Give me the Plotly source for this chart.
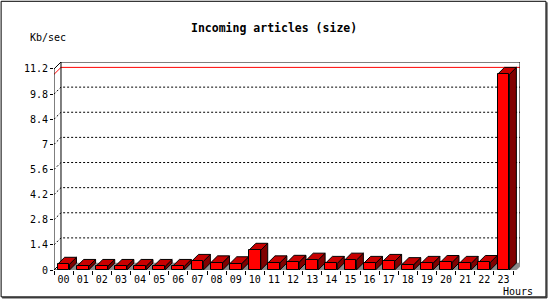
import plotly.graph_objects as go

# ---------------- data ----------------
hours = [f"{h:02d}" for h in range(24)]
kb_per_sec = [0.32, 0.20, 0.20, 0.20, 0.20, 0.20, 0.20, 0.48, 0.40, 0.35, 1.10, 0.40,
              0.43, 0.55, 0.37, 0.55, 0.37, 0.48, 0.30, 0.37, 0.42, 0.37, 0.42, 10.90]
y_ticks = [0, 1.4, 2.8, 4.2, 5.6, 7, 8.4, 9.8, 11.2]
y_ticklabels = ["0", "1.4", "2.8", "4.2", "5.6", "7", "8.4", "9.8", "11.2"]
title_text = "Incoming articles (size)"
y_title = "Kb/sec"
x_title = "Hours"

# ---------------- layout geometry (pixels) ----------------
W, H = 550, 300
L, R, T, B = 53.5, 520.5, 61.5, 270.5   # plot area incl. 3D depth
DEPTH = 7
n = len(hours)
ytop = y_ticks[-1]
px_per_x = (R - L - DEPTH) / n
px_per_y = (B - T - DEPTH) / ytop
dx = DEPTH / px_per_x
dy = DEPTH / px_per_y
xr = [-0.5, n - 0.5 + dx]
yr = [0, ytop + dy]
bw = 0.62

def px(xp):
    return (xp - L) / (R - L)

def py(yp):
    return (B - yp) / (B - T)

FRONT = "#ff0000"
TOP = "#c80000"
SIDE = "#800000"
SHADOW = "#8c8c8c"
FONT = "DejaVu Sans Mono"

fig = go.Figure()

def poly_trace(polys, fill, line_color="black", lw=1):
    xs, ys = [], []
    for p in polys:
        for (a, b) in p + [p[0]]:
            xs.append(a)
            ys.append(b)
        xs.append(None)
        ys.append(None)
    return go.Scatter(x=xs, y=ys, mode="lines", fill="toself", fillcolor=fill,
                      line=dict(color=line_color, width=lw), hoverinfo="skip",
                      cliponaxis=False, showlegend=False)

def line_trace(xs, ys, color="black", dash=None, lw=1):
    return go.Scatter(x=xs, y=ys, mode="lines",
                      line=dict(color=color, width=lw, dash=dash),
                      hoverinfo="skip", cliponaxis=False, showlegend=False)

# dotted gridlines on the back plane
for v in y_ticks[1:-1]:
    fig.add_trace(line_trace([-0.5, -0.5 + dx, n - 0.5 + dx], [v, v + dy, v + dy],
                             dash="2px,2px"))

# max-value red line
vmax = max(kb_per_sec)
fig.add_trace(line_trace([-0.5, -0.5 + dx, n - 0.5 + dx], [vmax, vmax + dy, vmax + dy],
                         color="#ff0000"))

# back plane frame
fig.add_trace(line_trace([-0.5 + dx, -0.5 + dx, n - 0.5 + dx, n - 0.5 + dx],
                         [dy, ytop + dy, ytop + dy, dy]))
# front axis + diagonals
fig.add_trace(line_trace([-0.5 + dx, -0.5, -0.5, n - 0.5, n - 0.5 + dx],
                         [ytop + dy, ytop, 0, 0, dy]))
fig.add_trace(line_trace([-0.5, -0.5 + dx], [0, dy]))

# shadows, sides, tops
shadows, sides, tops = [], [], []
for i, v in enumerate(kb_per_sec):
    x0, x1 = i - bw / 2, i + bw / 2
    shadows.append([(x0 + dx, 0), (x1 + dx, 0), (x1 + 2 * dx, dy), (x0 + 2 * dx, dy)])
    sides.append([(x1, 0), (x1, v), (x1 + dx, v + dy), (x1 + dx, dy)])
    tops.append([(x0, v), (x1, v), (x1 + dx, v + dy), (x0 + dx, v + dy)])
fig.add_trace(poly_trace(shadows, SHADOW, line_color=SHADOW, lw=0.5))
fig.add_trace(poly_trace(sides, SIDE))
fig.add_trace(poly_trace(tops, TOP))

# front faces as real bars on an overlaid axis pair
fig.add_trace(go.Bar(x=list(range(n)), y=kb_per_sec, width=bw,
                     marker=dict(color=FRONT, line=dict(color="black", width=1)),
                     xaxis="x2", yaxis="y2", hoverinfo="skip", showlegend=False))

fig.update_layout(
    width=W, height=H,
    margin=dict(l=L, r=W - R, t=T, b=H - B),
    paper_bgcolor="white", plot_bgcolor="rgba(0,0,0,0)",
    showlegend=False,
    font=dict(family=FONT, size=10, color="black"),
    xaxis=dict(range=xr, tickvals=list(range(n)), ticktext=hours, ticks="",
               showgrid=False, zeroline=False, showline=False,
               tickfont=dict(family=FONT, size=10), ticklabelstandoff=2,
               minor=dict(tickvals=[i - 0.5 for i in range(n + 1)], ticks="outside",
                          ticklen=4, tickcolor="black", tickwidth=1, showgrid=False)),
    yaxis=dict(range=yr, tickvals=y_ticks, ticktext=y_ticklabels, ticks="outside",
               ticklen=3, tickcolor="black", showgrid=False, zeroline=False,
               showline=False, tickfont=dict(family=FONT, size=10)),
    xaxis2=dict(range=xr, overlaying="x", visible=False),
    yaxis2=dict(range=yr, overlaying="y", visible=False),
    bargap=0,
    annotations=[
        dict(text=f"<b>{title_text}</b>", x=px(273.5), y=py(27), xref="paper", yref="paper",
             showarrow=False, xanchor="center", yanchor="middle",
             font=dict(family=FONT, size=11.5)),
        dict(text=y_title, x=px(47.5), y=py(37), xref="paper", yref="paper",
             showarrow=False, xanchor="center", yanchor="middle", font=dict(family=FONT, size=10)),
        dict(text=x_title, x=px(518.5), y=py(292), xref="paper", yref="paper",
             showarrow=False, xanchor="center", yanchor="middle", font=dict(family=FONT, size=10)),
    ],
    shapes=[
        dict(type="rect", xref="paper", yref="paper", x0=px(0.5), x1=px(546.5),
             y0=py(0.5), y1=py(297.5), line=dict(color="black", width=1), layer="below"),
        dict(type="line", xref="paper", yref="paper", x0=px(547.5), x1=px(547.5),
             y0=py(1.5), y1=py(298.5), line=dict(color="black", width=1)),
        dict(type="line", xref="paper", yref="paper", x0=px(1.5), x1=px(547.5),
             y0=py(298.5), y1=py(298.5), line=dict(color="black", width=1)),
    ],
)

fig.write_html("out.html")
